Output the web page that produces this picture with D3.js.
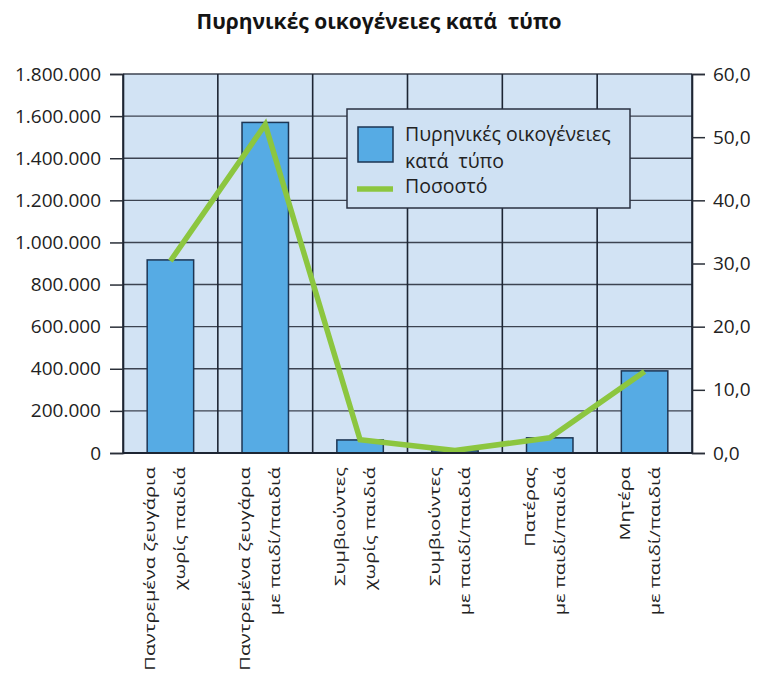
<!DOCTYPE html>
<html lang="el">
<head>
<meta charset="UTF-8">
<title>Πυρηνικές οικογένειες κατά τύπο</title>
<script src="https://d3js.org/d3.v7.min.js"></script>
<style>
  body { margin: 0; background: #fff; font-family: "Open Sans", "Noto Sans", sans-serif; }
  svg text { fill: #222; white-space: pre; }
</style>
</head>
<body>
<svg id="chart" width="758" height="675"></svg>
<script>
// data
const categories = [
  ["Παντρεμένα ζευγάρια", "χωρίς παιδιά"],
  ["Παντρεμένα ζευγάρια", "με παιδί/παιδιά"],
  ["Συμβιούντες", "χωρίς παιδιά"],
  ["Συμβιούντες", "με παιδί/παιδιά"],
  ["Πατέρας", "με παιδί/παιδιά"],
  ["Μητέρα", "με παιδί/παιδιά"]
];
const families = [917000, 1570000, 62000, 10000, 72000, 390000];
const percent = [30.4, 52.0, 2.1, 0.4, 2.4, 12.9];
const leftTicks = [0, 200000, 400000, 600000, 800000, 1000000, 1200000, 1400000, 1600000, 1800000];
const rightTicks = [0, 10, 20, 30, 40, 50, 60];
const legendLabels = [["Πυρηνικές οικογένειες", "κατά  τύπο"], ["Ποσοστό"]];

const svg = d3.select("#chart");
const m = { top: 74, right: 66, bottom: 222, left: 123 };
const W = 758 - m.left - m.right, H = 675 - m.top - m.bottom;

const loc = d3.formatLocale({ decimal: ",", thousands: ".", grouping: [3], currency: ["", "€"] });

const x = d3.scaleBand().domain(d3.range(categories.length)).range([0, W]).paddingInner(0).paddingOuter(0);
const yL = d3.scaleLinear().domain([0, 1800000]).range([H, 0]);
const yR = d3.scaleLinear().domain([0, 60]).range([H, 0]);

svg.append("text")
  .attr("x", 379).attr("y", 29)
  .attr("text-anchor", "middle")
  .style("font-size", "21px").style("font-weight", "700").style("fill", "#141414")
  .text("Πυρηνικές οικογένειες κατά  τύπο");

const g = svg.append("g").attr("transform", `translate(${m.left},${m.top})`);

g.append("rect").attr("width", W).attr("height", H).attr("fill", "#d2e3f4");

// horizontal grid
g.selectAll(".hgrid").data(leftTicks).enter().append("line")
  .attr("x1", 0).attr("x2", W)
  .attr("y1", d => yL(d)).attr("y2", d => yL(d))
  .attr("stroke", "#3c4350").attr("stroke-width", 1.4);

// vertical grid at band edges
g.selectAll(".vgrid").data(d3.range(categories.length + 1)).enter().append("line")
  .attr("x1", i => i * x.step()).attr("x2", i => i * x.step())
  .attr("y1", 0).attr("y2", H)
  .attr("stroke", "#1d2533").attr("stroke-width", 1.6);

// bars
const bw = x.bandwidth() * 0.49;
g.selectAll(".bar").data(families).enter().append("rect")
  .attr("x", (d, i) => x(i) + (x.bandwidth() - bw) / 2)
  .attr("y", d => yL(d))
  .attr("width", bw)
  .attr("height", d => H - yL(d))
  .attr("fill", "#56abe4").attr("stroke", "#1d3553").attr("stroke-width", 1.5);

// percent line
const line = d3.line()
  .x((d, i) => x(i) + x.bandwidth() / 2)
  .y(d => yR(d));
g.append("path").datum(percent)
  .attr("d", line)
  .attr("fill", "none").attr("stroke", "#8cc63f").attr("stroke-width", 5.5)
  .attr("stroke-linejoin", "miter");

// axes
const axL = g.append("g")
  .call(d3.axisLeft(yL).tickValues(leftTicks).tickFormat(loc.format(",.0f")).tickSize(13).tickPadding(9));
const axR = g.append("g").attr("transform", `translate(${W},0)`)
  .call(d3.axisRight(yR).tickValues(rightTicks).tickFormat(loc.format(",.1f")).tickSize(13).tickPadding(8));
[axL, axR].forEach(a => {
  a.select(".domain").attr("stroke", "#1d2533").attr("stroke-width", 1.6);
  a.selectAll(".tick line").attr("stroke", "#2a2f38").attr("stroke-width", 1.5);
  a.selectAll(".tick text").style("font-size", "19px").style("font-family", "'Open Sans', sans-serif")
    .style("font-weight", "500").attr("fill", "#222");
});
g.append("line").attr("x1", 0).attr("x2", W).attr("y1", H).attr("y2", H)
  .attr("stroke", "#1d2533").attr("stroke-width", 1.8);

// category labels, rotated
const lab = g.selectAll(".xlab").data(categories).enter().append("g")
  .attr("transform", (d, i) => `translate(${x(i) + x.bandwidth() / 2 - 15},${H + 14}) rotate(-90) scale(1.38,1)`);
lab.selectAll("text").data(d => d).enter().append("text")
  .attr("x", 0).attr("y", (d, j) => j * 30)
  .attr("text-anchor", "end")
  .style("font-size", "14.5px").style("font-weight", "500")
  .text(d => d);

// legend
const lg = svg.append("g").attr("transform", "translate(347,109)");
lg.append("rect").attr("width", 283).attr("height", 99)
  .attr("fill", "#cfe1f3").attr("stroke", "#2a3040").attr("stroke-width", 1.5);
lg.append("rect").attr("x", 11).attr("y", 18).attr("width", 35).attr("height", 35)
  .attr("fill", "#56abe4").attr("stroke", "#1d3553").attr("stroke-width", 1.5);
lg.append("line").attr("x1", 10).attr("x2", 46).attr("y1", 80).attr("y2", 80)
  .attr("stroke", "#8cc63f").attr("stroke-width", 5.5);
lg.selectAll(".lt").data([legendLabels[0][0], legendLabels[0][1], legendLabels[1][0]]).enter().append("text")
  .attr("x", 58).attr("y", (d, i) => [32, 59, 84][i])
  .style("font-size", "19.5px").style("font-weight", "500")
  .text(d => d);
</script>
</body>
</html>
